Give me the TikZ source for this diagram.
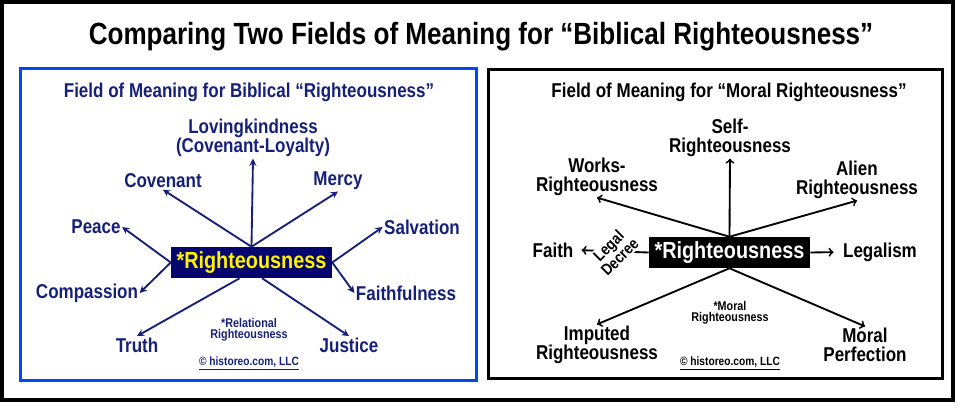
\documentclass[tikz,border=0pt]{standalone}
\usepackage{fontspec}
\setmainfont{Liberation Sans}[FakeStretch=0.85]
\usepackage{tikz}
\usetikzlibrary{positioning, shapes.geometric, arrows}
\definecolor{navytext}{RGB}{22,32,120}
\definecolor{navybox}{RGB}{5,5,110}
\definecolor{frameblue}{RGB}{0,72,240}
\tikzset{
	term/.style n args={1}{
		text=#1, % Colour of the word
		font=\bfseries\fontsize{15}{14.5}\selectfont, % Size of the labels
		align=center, % Lines centred
		inner sep=1pt
	},
	core/.style n args={2}{
		rectangle, % Shape of the centre node
		minimum height=23.25pt, % Height of the centre node
		minimum width=120.75pt, % Width of the centre node
		font=\bfseries\fontsize{17.5}{18}\selectfont,
		% Fill and text colour from the parameters
		fill=#1, text=#2
	},
	note/.style n args={1}{
		text=#1,
		font=\bfseries\fontsize{9.5}{8.25}\selectfont,
		align=center,
		inner sep=0pt
	},
	ray/.style n args={1}{
		draw=#1, line width=1.4pt, -stealth
	},
	blackray/.style n args={1}{
		draw=#1, line width=1.4pt, ->
	}
}

\begin{document}
\begin{tikzpicture}[x=0.75pt, y=-0.75pt]
	\useasboundingbox (0,0) rectangle (958,404);
	\draw[line width=3pt] (2,2) rectangle (953,400);
	\node[font=\bfseries\fontsize{23}{24}\selectfont] (title) at (481,37) {Comparing Two Fields of Meaning for “Biblical Righteousness”};
	
	% biblical field
	\draw[frameblue, line width=2.25pt] (20,68) rectangle (476,380);
	\node[term=navytext] (lhead) at (249,92) {Field of Meaning for Biblical “Righteousness”};
	
	\node[core={navybox}{yellow}] (lbox) at (251.5,262.5) {*Righteousness};
	
	\node[term=navytext] (loving) at (253,138) {Lovingkindness\\(Covenant-Loyalty)};
	\node[term=navytext] (cov) at (163,181) {Covenant};
	\node[term=navytext] (mercy) at (338,181) {Mercy};
	\node[term=navytext] (peace) at (96,227) {Peace};
	\node[term=navytext] (salv) at (422,227) {Salvation};
	\node[term=navytext] (comp) at (87,293) {Compassion};
	\node[term=navytext] (faithful) at (406,293) {Faithfulness};
	\node[term=navytext] (truth) at (137,345) {Truth};
	\node[term=navytext] (justice) at (349,345) {Justice};
	
	\draw[ray=navytext] (lbox.north) -- (loving.south);
	\draw[ray=navytext] (lbox.north) -- (cov.south);
	\draw[ray=navytext] (lbox.north) -- (mercy.south);
	\draw[ray=navytext] (lbox.west) -- (peace.east);
	\draw[ray=navytext] (lbox.west) -- (comp.east);
	\draw[ray=navytext] (lbox.east) -- (salv.west);
	\draw[ray=navytext] (lbox.east) -- (faithful.west);
	\draw[ray=navytext] (lbox.233) -- (truth.north);
	\draw[ray=navytext] (lbox.304) -- (justice.north);
	
	\node[note=navytext] (lnote) at (249,330) {*Relational\\Righteousness};
	\node[note=navytext, font=\bfseries\fontsize{9}{10}\selectfont] (lcopy) at (249,363) {\underline{\textcopyright{} historeo.com, LLC}};
	
	% moral field
	\draw[line width=2.25pt] (488,69) rectangle (942,378);
	\node[term=black] (rhead) at (729,92) {Field of Meaning for “Moral Righteousness”};
	
	\node[core={black}{white}] (rbox) at (729.5,252.5) {*Righteousness};
	
	\node[term=black] (self) at (730,138) {Self-\\Righteousness};
	\node[term=black] (works) at (597,177) {Works-\\Righteousness};
	\node[term=black] (alien) at (857,180) {Alien\\Righteousness};
	\node[term=black] (faith) at (553,250) {Faith};
	\node[term=black] (legal) at (880,252) {Legalism};
	\node[term=black] (imputed) at (597,345) {Imputed\\Righteousness};
	\node[term=black] (perf) at (865,345) {Moral\\Perfection};
	
	\draw[blackray=black] (rbox.north) -- (self.south);
	\draw[blackray=black] (rbox.north) -- (works.south);
	\draw[blackray=black] (rbox.north) -- (alien.south);
	\draw[blackray=black, shorten >=6pt] (rbox.east) -- (legal.west);
	\draw[blackray=black, shorten >=5pt] (rbox.west) -- node[pos=0.47, fill=white, rotate=45, inner sep=1pt, align=center, font=\bfseries\fontsize{12}{10.5}\selectfont] (decree) {Legal\\Decree} (faith.east);
	\draw[blackray=black] (rbox.south) -- (imputed.north);
	\draw[blackray=black] (rbox.south) -- (perf.north);
	
	\node[note=black] (rnote) at (730,313) {*Moral\\Righteousness};
	\node[note=black, font=\bfseries\fontsize{9}{10}\selectfont] (rcopy) at (730,363) {\underline{\textcopyright{} historeo.com, LLC}};
\end{tikzpicture}
\end{document}
